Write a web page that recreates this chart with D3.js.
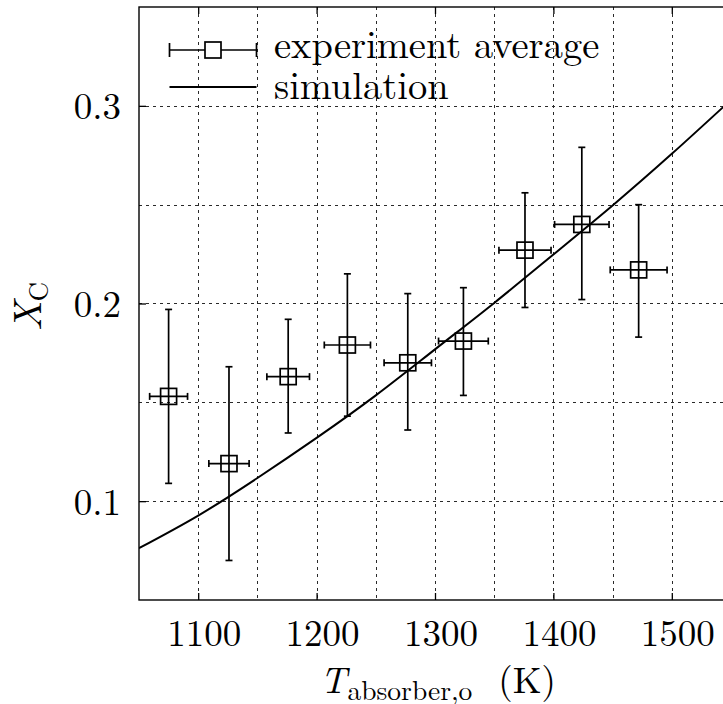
<!DOCTYPE html>
<html>
<head>
<meta charset="utf-8">
<script src="https://cdn.jsdelivr.net/npm/d3@7"></script>
<style>
  html, body { margin: 0; padding: 0; background: #fff; }
  svg { display: block; }
</style>
</head>
<body>
<svg id="chart" width="723" height="704"></svg>
<script>
// Experimental averages with error bars (absorber outlet temperature, K)
const temps    = [1075, 1126, 1176, 1226, 1277, 1324, 1376, 1424, 1472];
const tempErr  = [16, 17, 18, 19.5, 20, 21, 22, 23, 24];
const xcAvg    = [0.153, 0.119, 0.163, 0.179, 0.170, 0.181, 0.227, 0.240, 0.217];
const xcLow    = [0.109, 0.070, 0.1345, 0.143, 0.136, 0.1535, 0.198, 0.202, 0.183];
const xcHigh   = [0.197, 0.168, 0.192, 0.215, 0.205, 0.208, 0.256, 0.279, 0.250];

// Simulated conversion curve
const simT  = [1050, 1100, 1150, 1200, 1250, 1300, 1350, 1400, 1450, 1500, 1550];
const simXc = [0.0762, 0.0927, 0.1117, 0.1320, 0.1535, 0.1768, 0.2003, 0.2248, 0.2496, 0.2757, 0.3030];

// Ticks and grid
const xTicks = [1100, 1200, 1300, 1400, 1500];
const xGrid  = [1100, 1150, 1200, 1250, 1300, 1350, 1400, 1450, 1500];
const yTicks = [0.1, 0.2, 0.3];
const yGrid  = [0.1, 0.15, 0.2, 0.25, 0.3];

const legendLabels = ["experiment average", "simulation"];

const FONT = '"Latin Modern Roman", "Liberation Serif", serif';

const svg = d3.select("#chart");
const pLeft = 139, pRight = 731, pTop = 7, pBottom = 600;

const x = d3.scaleLinear().domain([1050, 1550]).range([pLeft, pRight]);
const y = d3.scaleLinear().domain([0.05, 0.35]).range([pBottom, pTop]);

svg.append("defs").append("clipPath").attr("id", "plotClip")
  .append("rect").attr("x", pLeft).attr("y", pTop)
  .attr("width", pRight - pLeft).attr("height", pBottom - pTop);

// grid
const grid = svg.append("g").attr("stroke", "#2a2a2a").attr("stroke-width", 1)
  .attr("stroke-dasharray", "3,4");
grid.selectAll("line.v").data(xGrid).join("line").attr("class", "v")
  .attr("x1", d => Math.round(x(d)) + 0.5).attr("x2", d => Math.round(x(d)) + 0.5)
  .attr("y1", pTop).attr("y2", pBottom);
grid.selectAll("line.h").data(yGrid).join("line").attr("class", "h")
  .attr("y1", d => Math.round(y(d)) + 0.5).attr("y2", d => Math.round(y(d)) + 0.5)
  .attr("x1", pLeft).attr("x2", pRight);

// axes (ticks pointing inward)
const axB = svg.append("g").attr("transform", `translate(0,${pBottom})`)
  .call(d3.axisBottom(x).tickValues(xTicks).tickSizeInner(-7).tickSizeOuter(0).tickPadding(20)
    .tickFormat(d3.format("d")));
const axT = svg.append("g").attr("transform", `translate(0,${pTop})`)
  .call(d3.axisTop(x).tickValues(xTicks).tickSizeInner(-7).tickSizeOuter(0).tickFormat(""));
const axL = svg.append("g").attr("transform", `translate(${pLeft},0)`)
  .call(d3.axisLeft(y).tickValues(yTicks).tickSizeInner(-7).tickSizeOuter(0).tickPadding(18)
    .tickFormat(d3.format(".1f")));
[axB, axT, axL].forEach(a => {
  a.select(".domain").remove();
  a.selectAll(".tick line").attr("stroke", "#000").attr("stroke-width", 1.3);
});
axB.selectAll(".tick text").style("font-family", FONT).style("font-size", "37px")
  .attr("dy", "0.71em").attr("dx", 5.5).attr("y", 20);
axL.selectAll(".tick text").style("font-family", FONT).style("font-size", "37px")
  .attr("dy", "0.35em");

// frame
svg.append("rect").attr("x", pLeft).attr("y", pTop)
  .attr("width", pRight - pLeft).attr("height", pBottom - pTop)
  .attr("fill", "none").attr("stroke", "#000").attr("stroke-width", 1.4);

const plot = svg.append("g").attr("clip-path", "url(#plotClip)");

// simulation curve
const line = d3.line().x(d => x(d[0])).y(d => y(d[1])).curve(d3.curveNatural);
plot.append("path").datum(simT.map((t, i) => [t, simXc[i]]))
  .attr("d", line).attr("fill", "none").attr("stroke", "#000").attr("stroke-width", 2);

// experiment error bars and markers
const pts = temps.map((t, i) => ({t, dt: tempErr[i], v: xcAvg[i], lo: xcLow[i], hi: xcHigh[i]}));
const eb = plot.append("g").attr("stroke", "#000").attr("stroke-width", 1.7).attr("fill", "none");
const cap = 3.5, half = 8;
pts.forEach(p => {
  const cx = x(p.t), cy = y(p.v);
  eb.append("line").attr("x1", cx).attr("x2", cx).attr("y1", y(p.lo)).attr("y2", y(p.hi));
  eb.append("line").attr("x1", cx - cap).attr("x2", cx + cap).attr("y1", y(p.lo)).attr("y2", y(p.lo));
  eb.append("line").attr("x1", cx - cap).attr("x2", cx + cap).attr("y1", y(p.hi)).attr("y2", y(p.hi));
  eb.append("line").attr("x1", x(p.t - p.dt)).attr("x2", x(p.t + p.dt)).attr("y1", cy).attr("y2", cy);
  eb.append("line").attr("x1", x(p.t - p.dt)).attr("x2", x(p.t - p.dt)).attr("y1", cy - cap).attr("y2", cy + cap);
  eb.append("line").attr("x1", x(p.t + p.dt)).attr("x2", x(p.t + p.dt)).attr("y1", cy - cap).attr("y2", cy + cap);
  eb.append("rect").attr("x", cx - half).attr("y", cy - half)
    .attr("width", 2 * half).attr("height", 2 * half);
});

// legend
const lg = svg.append("g").attr("stroke", "#000").attr("fill", "none").attr("stroke-width", 1.7);
const lx0 = 169.5, lx1 = 256.5, lmid = (lx0 + lx1) / 2, ly1 = 50, ly2 = 87;
lg.append("line").attr("x1", lx0).attr("x2", lx1).attr("y1", ly1).attr("y2", ly1);
lg.append("line").attr("x1", lx0).attr("x2", lx0).attr("y1", ly1 - 7).attr("y2", ly1 + 7);
lg.append("line").attr("x1", lx1).attr("x2", lx1).attr("y1", ly1 - 7).attr("y2", ly1 + 7);
lg.append("rect").attr("x", lmid - half).attr("y", ly1 - half).attr("width", 2 * half).attr("height", 2 * half)
  .attr("fill", "#fff");
lg.append("line").attr("x1", lx0).attr("x2", lx1).attr("y1", ly2).attr("y2", ly2).attr("stroke-width", 2);
svg.append("text").attr("x", 274).attr("y", 57.5)
  .style("font-family", FONT).style("font-size", "38.5px").text(legendLabels[0]);
svg.append("text").attr("x", 274).attr("y", 99)
  .style("font-family", FONT).style("font-size", "38.5px").text(legendLabels[1]);

// x-axis title: T_absorber,o (K)
const xt = svg.append("text").attr("x", 320).attr("y", 693).style("font-family", FONT);
xt.append("tspan").style("font-size", "37px").style("font-style", "italic").text("T");
xt.append("tspan").style("font-size", "27.5px").attr("dy", 7).attr("dx", 1).text("absorber,o");
xt.append("tspan").style("font-size", "37px").attr("dy", -7).attr("dx", 26).text("(K)");

// y-axis title: X_C
const yt = svg.append("text").attr("transform", `translate(41,${(pTop + pBottom) / 2 + 3}) rotate(-90)`)
  .attr("text-anchor", "middle").style("font-family", FONT);
yt.append("tspan").style("font-size", "40px").style("font-style", "italic").text("X");
yt.append("tspan").style("font-size", "27px").attr("dy", 7).text("C");
</script>
</body>
</html>
